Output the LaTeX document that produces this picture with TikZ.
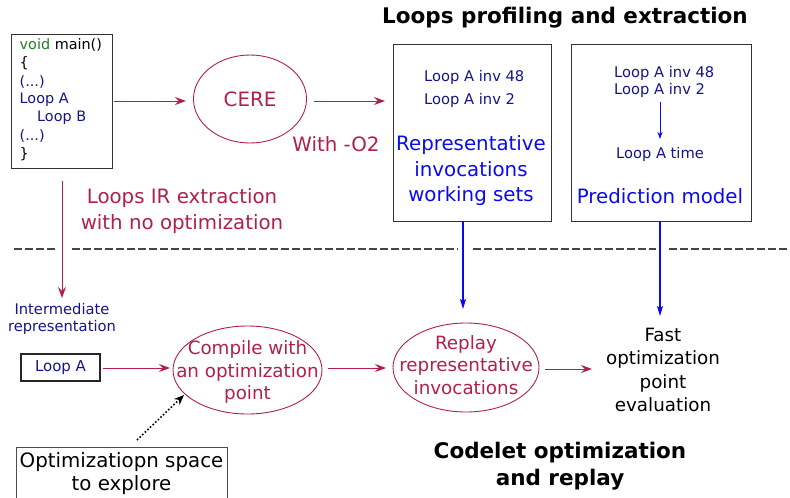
\documentclass[tikz,border=0pt]{standalone}
\usepackage{fontspec}
\setmainfont{DejaVu Sans}
\usetikzlibrary{arrows.meta,shapes.geometric}
\definecolor{crim}{RGB}{176,32,72}
\definecolor{navyt}{RGB}{20,20,140}
\definecolor{bluet}{RGB}{10,10,240}
\definecolor{codegreen}{RGB}{40,120,40}
\definecolor{dashg}{RGB}{70,70,70}
\tikzset{
  fs/.style 2 args={font=\fontsize{#1}{#2}\selectfont},
  fsb/.style 2 args={font=\fontsize{#1}{#2}\selectfont\bfseries},
  redarrow/.style={draw=crim, line width=0.9pt, -{Stealth[length=11pt,width=8pt,inset=4pt]}},
  bluearrow/.style={draw=bluet, line width=1.2pt, -{Stealth[length=10pt,width=6pt,inset=2pt]}},
  redell/.style={ellipse, draw=crim, line width=0.9pt, text=crim, align=center, inner sep=0pt},
  ellline/.style={draw=crim, line width=0.9pt},
  ellt/.style={text=crim, align=center, inner sep=0pt},
  bigbox/.style={draw=black!80, line width=1.2pt},
  sepline/.style={draw=dashg, line width=1.2pt, dash pattern=on 8pt off 3pt},
  codet/.style={fs={14.4}{16}, anchor=west, inner sep=0pt},
}
\begin{document}
\begin{tikzpicture}[x=1pt,y=-1pt]
\useasboundingbox (0,0) rectangle (790,498);
% code box
\node[bigbox, minimum width=101pt, minimum height=134pt, anchor=north west, inner sep=0pt] (code) at (11,34) {};
\node[codet] (c1) at (19.5,45) {\textcolor{codegreen}{void} main()};
\node[codet] (c2) at (19.5,63) {\{};
\node[codet, text=navyt] (c3) at (19.5,82) {(...)};
\node[codet, text=navyt] (c4) at (19.5,100) {Loop A};
\node[codet, text=navyt] (c5) at (37,118) {Loop B};
\node[codet, text=navyt] (c6) at (19.5,136) {(...)};
\node[codet] (c7) at (19.5,154) {\}};
% CERE
\node[redell, minimum width=113pt, minimum height=88pt, fs={19.8}{23}] (cere) at (250,99) {CERE};
\node[fs={19.8}{23}, text=crim] (o2) at (336,144) {With -O2};
% title
\node[fsb={21.5}{25}] (title1) at (565,18) {Loops profiling and extraction};
% box1
\node[bigbox, minimum width=158pt, minimum height=177pt, anchor=north west, inner sep=0pt] (box1) at (393,44) {};
\node[fs={14.7}{17}, text=navyt, anchor=west, inner sep=0pt] (b1a) at (424,77) {Loop A inv 48};
\node[fs={14.7}{17}, text=navyt, anchor=west, inner sep=0pt] (b1b) at (424,100) {Loop A inv 2};
\node[fs={19.8}{25.5}, text=bluet, align=center] (b1c) at (471,171) {Representative\\invocations\\working sets};
% box2
\node[bigbox, minimum width=180pt, minimum height=177pt, anchor=north west, inner sep=0pt] (box2) at (571,44) {};
\node[fs={14.7}{17}, text=navyt, anchor=west, inner sep=0pt] (b2a) at (614,73) {Loop A inv 48};
\node[fs={14.7}{17}, text=navyt, anchor=west, inner sep=0pt] (b2b) at (614,90) {Loop A inv 2};
\node[fs={14.7}{17}, text=navyt] (b2c) at (660,154) {Loop A time};
\node[fs={19.8}{23}, text=bluet] (b2d) at (660,196) {Prediction model};
\coordinate (b2top) at (660,102);
\coordinate (b2bot) at (660,139);
\draw[draw=bluet, line width=0.9pt, -{Stealth[length=7pt,width=5pt,inset=2pt]}] (b2top) -- (b2bot);
% top arrows
\coordinate (cout) at (114,101);
\coordinate (cin) at (186,101);
\coordinate (ceo) at (314,101);
\coordinate (b1in) at (385,101);
\draw[redarrow] (cout) -- (cin);
\draw[redarrow] (ceo) -- (b1in);
% separator
\draw[sepline] (14,249) -- (55,249);
\draw[sepline] (72,249) -- (458,249);
\draw[sepline] (473,249) -- (656,249);
\draw[sepline] (669,249) -- (790,249);
% IR extraction
\coordinate (irtop) at (62,181);
\coordinate (irbot) at (62,298);
\draw[redarrow] (irtop) -- (irbot);
\node[fs={19.8}{26}, text=crim, align=center] (irlab) at (182,211) {Loops IR extraction\\with no optimization};
\node[fs={14.7}{17.5}, text=navyt, align=center] (inter) at (62,319) {Intermediate\\representation};
% Loop A box
\node[draw=black!85, line width=1.1pt, minimum width=79pt, minimum height=27pt, inner sep=0pt, fs={15}{17}, text=navyt] (loopa) at (60.5,367.5) {Loop A};
% ellipses bottom
\node[ellt, fs={18.3}{22.5}] (comp) at (247.5,372) {Compile with\\an optimization\\point};
\draw[ellline] (247.5,370) ellipse [x radius=74.5, y radius=44];
\node[ellt, fs={18.3}{22.5}] (replay) at (466,365) {Replay\\representative\\invocations};
\draw[ellline] (466,367.5) ellipse [x radius=73, y radius=44.5];
\node[fs={18.3}{23.3}, align=center] (fast) at (663,370) {Fast\\optimization\\point\\evaluation};
\coordinate (la1) at (103,368);
\coordinate (la2) at (170,368);
\coordinate (co1) at (328,368);
\coordinate (co2) at (386,368);
\coordinate (re1) at (545,369);
\coordinate (re2) at (592,369);
\draw[redarrow] (la1) -- (la2);
\draw[redarrow] (co1) -- (co2);
\draw[redarrow] (re1) -- (re2);
% blue arrows
\coordinate (bl1) at (463,221);
\coordinate (bl1e) at (463,309);
\coordinate (bl2) at (660,221);
\coordinate (bl2e) at (660,316);
\draw[bluearrow] (bl1) -- (bl1e);
\draw[bluearrow] (bl2) -- (bl2e);
% optimization space
\node[draw=black!70, line width=1pt, minimum width=211pt, minimum height=60pt, anchor=north west, inner sep=0pt] (space) at (16,447) {};
\node[fs={19.8}{23}, align=center] (spacet) at (121.5,474) {Optimizatiopn space\\to explore};
\coordinate (dt1) at (137,440);
\coordinate (dt2) at (184,395);
\draw[black, line width=1.6pt, dotted, -{Stealth[length=10pt,width=8pt,inset=3pt]}] (dt1) -- (dt2);
% bottom title
\node[fsb={21.5}{27}, align=center] (title2) at (560,466) {Codelet optimization\\and replay};
\end{tikzpicture}
\end{document}
